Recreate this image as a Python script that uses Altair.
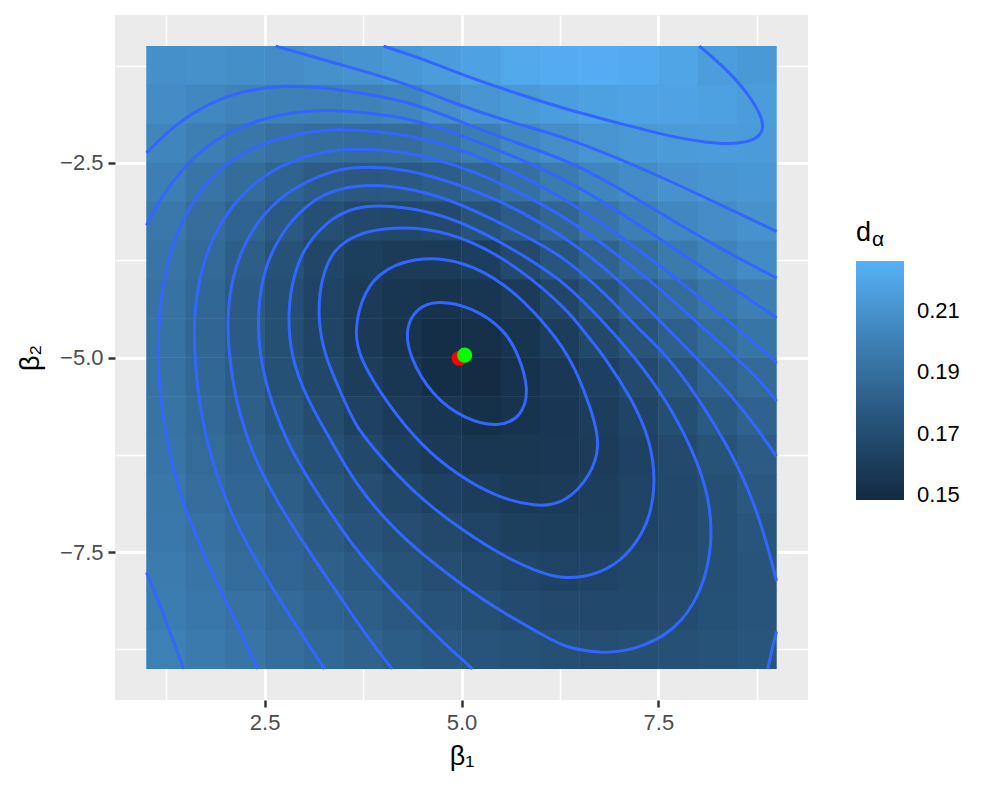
import altair as alt
import pandas as pd

# ---------------- data ----------------
X_CENTERS = [1.25, 1.75, 2.25, 2.75, 3.25, 3.75, 4.25, 4.75,
             5.25, 5.75, 6.25, 6.75, 7.25, 7.75, 8.25, 8.75]
Y_CENTERS = [-1.25, -1.75, -2.25, -2.75, -3.25, -3.75, -4.25, -4.75,
             -5.25, -5.75, -6.25, -6.75, -7.25, -7.75, -8.25, -8.75]
HALF_CELL = 0.253   # half cell width, with a hair of overlap to hide seams

# d_alpha per cell, rows top (beta2=-1.25) to bottom (beta2=-8.75)
D_ROWS = [
    [0.2082, 0.2085, 0.2079, 0.2071, 0.2085, 0.2104, 0.2127, 0.2151, 0.2180, 0.2214, 0.2236, 0.2242, 0.2228, 0.2197, 0.2155, 0.2135],
    [0.2065, 0.2040, 0.2017, 0.2002, 0.1997, 0.2008, 0.2024, 0.2074, 0.2110, 0.2134, 0.2158, 0.2177, 0.2191, 0.2191, 0.2177, 0.2149],
    [0.2029, 0.1989, 0.1945, 0.1915, 0.1893, 0.1887, 0.1897, 0.1928, 0.1984, 0.2040, 0.2076, 0.2108, 0.2130, 0.2145, 0.2151, 0.2148],
    [0.1991, 0.1930, 0.1883, 0.1839, 0.1789, 0.1770, 0.1772, 0.1804, 0.1850, 0.1906, 0.1967, 0.2026, 0.2066, 0.2099, 0.2116, 0.2123],
    [0.1955, 0.1895, 0.1837, 0.1772, 0.1710, 0.1673, 0.1665, 0.1681, 0.1737, 0.1792, 0.1852, 0.1929, 0.1991, 0.2043, 0.2070, 0.2097],
    [0.1931, 0.1871, 0.1803, 0.1731, 0.1657, 0.1613, 0.1589, 0.1589, 0.1617, 0.1681, 0.1749, 0.1824, 0.1900, 0.1964, 0.2013, 0.2057],
    [0.1919, 0.1856, 0.1786, 0.1713, 0.1642, 0.1591, 0.1553, 0.1536, 0.1553, 0.1591, 0.1658, 0.1739, 0.1817, 0.1884, 0.1946, 0.1992],
    [0.1916, 0.1852, 0.1785, 0.1712, 0.1643, 0.1584, 0.1539, 0.1502, 0.1508, 0.1549, 0.1599, 0.1668, 0.1742, 0.1817, 0.1877, 0.1938],
    [0.1917, 0.1857, 0.1794, 0.1728, 0.1664, 0.1604, 0.1557, 0.1505, 0.1488, 0.1530, 0.1572, 0.1622, 0.1685, 0.1752, 0.1820, 0.1872],
    [0.1922, 0.1866, 0.1809, 0.1749, 0.1692, 0.1633, 0.1587, 0.1552, 0.1514, 0.1535, 0.1566, 0.1600, 0.1647, 0.1709, 0.1772, 0.1829],
    [0.1931, 0.1878, 0.1826, 0.1773, 0.1723, 0.1670, 0.1623, 0.1584, 0.1562, 0.1560, 0.1570, 0.1594, 0.1635, 0.1682, 0.1739, 0.1792],
    [0.1945, 0.1896, 0.1847, 0.1801, 0.1752, 0.1705, 0.1663, 0.1628, 0.1599, 0.1584, 0.1586, 0.1609, 0.1637, 0.1672, 0.1716, 0.1768],
    [0.1953, 0.1915, 0.1868, 0.1829, 0.1784, 0.1740, 0.1701, 0.1668, 0.1640, 0.1618, 0.1614, 0.1620, 0.1645, 0.1677, 0.1710, 0.1752],
    [0.1967, 0.1934, 0.1891, 0.1852, 0.1815, 0.1773, 0.1738, 0.1706, 0.1682, 0.1658, 0.1642, 0.1646, 0.1667, 0.1689, 0.1713, 0.1745],
    [0.1981, 0.1949, 0.1914, 0.1874, 0.1839, 0.1803, 0.1768, 0.1740, 0.1716, 0.1691, 0.1674, 0.1674, 0.1679, 0.1696, 0.1726, 0.1746],
    [0.1995, 0.1962, 0.1931, 0.1897, 0.1862, 0.1828, 0.1797, 0.1767, 0.1746, 0.1729, 0.1711, 0.1702, 0.1710, 0.1721, 0.1735, 0.1752],
]
D_RANGE = [0.1484, 0.2263]
LEGEND_TICKS = [0.15, 0.17, 0.19, 0.21]
X_TICKS = [2.5, 5.0, 7.5]
Y_TICKS = [-7.5, -5.0, -2.5]
X_MINOR = [1.25, 3.75, 6.25, 8.75]
Y_MINOR = [-8.75, -6.25, -3.75, -1.25]

# contour lines (beta1, beta2)
L1 = [(4.67, -4.26), (5.14, -4.35), (5.56, -4.65), (5.73, -4.98), (5.86, -5.41), (5.77, -5.76),
      (5.47, -5.90), (5.05, -5.80), (4.63, -5.50), (4.33, -4.98), (4.29, -4.61), (4.43, -4.37)]
L2 = [(3.68, -4.98), (3.65, -4.63), (3.72, -4.28), (3.91, -3.92), (4.41, -3.70), (5.01, -3.75),
      (5.56, -4.05), (6.03, -4.52), (6.37, -4.98), (6.55, -5.40), (6.70, -5.84), (6.75, -6.14),
      (6.66, -6.49), (6.32, -6.88), (5.94, -6.92), (5.43, -6.79), (4.92, -6.49), (4.50, -6.14),
      (4.08, -5.63)]
L3 = [(3.66, -3.42), (3.38, -3.60), (3.22, -3.96), (3.17, -4.48), (3.26, -4.99), (3.51, -5.54),
      (3.65, -5.89), (4.08, -6.40), (4.50, -6.83), (5.01, -7.22), (5.56, -7.57), (6.03, -7.78),
      (6.35, -7.85), (6.75, -7.78), (7.09, -7.57), (7.38, -7.14), (7.47, -6.62), (7.40, -6.06),
      (7.17, -5.54), (6.81, -4.98), (6.58, -4.70), (6.35, -4.39), (5.77, -3.88), (5.14, -3.49),
      (4.50, -3.32), (3.99, -3.34)]
L4 = [(2.83, -4.99), (2.79, -4.39), (2.88, -3.88), (3.04, -3.53), (3.34, -3.21), (3.66, -3.06),
      (4.07, -3.04), (4.71, -3.14), (5.34, -3.42), (5.98, -3.81), (6.32, -4.05), (6.75, -4.48),
      (7.19, -4.98), (7.60, -5.54), (7.94, -6.19), (8.15, -6.79), (8.19, -7.40), (8.06, -8.00),
      (7.72, -8.52), (7.17, -8.77), (6.75, -8.80), (6.32, -8.73), (6.03, -8.56), (5.56, -8.30),
      (5.05, -7.96), (4.50, -7.53), (4.08, -7.14), (3.65, -6.62), (3.34, -6.06), (3.04, -5.54)]
L5 = [(5.14, -9.00), (4.84, -8.73), (4.50, -8.39), (4.08, -7.96), (3.65, -7.47), (3.17, -6.75),
      (2.83, -6.19), (2.58, -5.58), (2.43, -4.98), (2.41, -4.39), (2.49, -3.88), (2.66, -3.49),
      (2.92, -3.14), (3.26, -2.88), (3.65, -2.79), (4.07, -2.78), (4.71, -2.91), (5.34, -3.19),
      (5.98, -3.53), (6.32, -3.73), (6.83, -4.18), (7.26, -4.65), (7.62, -4.98), (8.02, -5.54),
      (8.36, -6.10), (8.66, -6.71), (8.87, -7.35), (9.00, -7.87)]
L5_CORNER = [(8.89, -9.00), (8.95, -8.72), (9.00, -8.52)]
L6 = [(4.12, -9.00), (3.91, -8.73), (3.66, -8.38), (3.38, -7.96), (3.00, -7.40), (2.62, -6.79),
      (2.32, -6.19), (2.13, -5.54), (2.05, -4.98), (2.02, -4.48), (2.09, -3.96), (2.24, -3.53),
      (2.49, -3.14), (2.83, -2.84), (3.26, -2.63), (3.65, -2.54), (4.29, -2.57), (4.92, -2.76),
      (5.56, -3.01), (6.32, -3.45), (6.96, -3.96), (7.51, -4.52), (7.96, -4.98), (8.44, -5.50),
      (8.74, -5.89), (9.00, -6.27)]
L7 = [(3.26, -9.00), (2.83, -8.34), (2.41, -7.65), (2.07, -7.01), (1.82, -6.32), (1.67, -5.63),
      (1.61, -4.98), (1.60, -4.48), (1.67, -3.96), (1.82, -3.49), (2.07, -3.06), (2.41, -2.71),
      (2.83, -2.47), (3.26, -2.35), (3.65, -2.31), (4.29, -2.35), (4.92, -2.52), (5.56, -2.78),
      (6.32, -3.19), (6.96, -3.66), (7.60, -4.18), (8.10, -4.65), (8.46, -4.98), (8.74, -5.24),
      (9.00, -5.56)]
L8 = [(2.41, -9.00), (2.11, -8.34), (1.82, -7.74), (1.52, -7.05), (1.31, -6.36), (1.18, -5.63),
      (1.14, -4.98), (1.16, -4.39), (1.24, -3.88), (1.39, -3.36), (1.65, -2.88), (1.98, -2.52),
      (2.41, -2.26), (2.92, -2.12), (3.34, -2.07), (3.65, -2.07), (4.29, -2.13), (4.92, -2.30),
      (5.56, -2.56), (6.32, -2.96), (6.96, -3.40), (7.60, -3.88), (8.23, -4.39), (8.91, -4.98),
      (9.00, -5.07)]
L9 = [(1.00, -3.30), (1.22, -2.88), (1.52, -2.50), (1.90, -2.17), (2.37, -1.96), (2.88, -1.84),
      (3.34, -1.82), (3.65, -1.84), (4.29, -1.91), (4.92, -2.11), (5.56, -2.37), (6.32, -2.71),
      (6.96, -3.10), (7.60, -3.53), (8.23, -3.96), (9.00, -4.49)]
L9_CORNER = [(1.00, -7.76), (1.22, -8.30), (1.47, -9.00)]
L10 = [(1.00, -2.37), (1.39, -1.98), (1.82, -1.72), (2.24, -1.57), (2.75, -1.50), (3.26, -1.53),
       (3.65, -1.59), (4.29, -1.70), (4.92, -1.94), (5.56, -2.20), (6.32, -2.45), (6.96, -2.80),
       (7.60, -3.19), (8.23, -3.57), (9.00, -3.98)]
L11 = [(2.64, -1.00), (3.65, -1.29), (4.29, -1.48), (4.92, -1.74), (5.56, -1.96), (6.32, -2.17),
       (6.96, -2.43), (7.60, -2.71), (8.23, -3.01), (9.00, -3.38)]
L12 = [(4.01, -1.00), (4.50, -1.16), (5.14, -1.42), (5.77, -1.63), (6.32, -1.81), (6.96, -1.98),
       (7.60, -2.15), (8.10, -2.24), (8.44, -2.26), (8.70, -2.22), (8.83, -2.11), (8.83, -1.94),
       (8.66, -1.63), (8.36, -1.29), (8.02, -1.00)]

CLOSED = {"L1": L1, "L2": L2, "L3": L3, "L4": L4}
OPEN = {"L5": L5, "L5b": L5_CORNER, "L6": L6, "L7": L7, "L8": L8, "L9": L9,
        "L9b": L9_CORNER, "L10": L10, "L11": L11, "L12": L12}

RED_PT = {"b1": [4.97], "b2": [-5.01]}
GREEN_PT = {"b1": [5.04], "b2": [-4.97]}

# ---------------- tables ----------------
grid = pd.DataFrame([
    {"b1": x, "b2": y, "d": D_ROWS[i][j]}
    for i, y in enumerate(Y_CENTERS) for j, x in enumerate(X_CENTERS)
])


def lines_df(dct):
    rows = []
    for name, pts in dct.items():
        for k, (x, y) in enumerate(pts):
            rows.append({"piece": name, "i": k, "b1": x, "b2": y})
    return pd.DataFrame(rows)


closed_df = lines_df(CLOSED)
open_df = lines_df(OPEN)

FONT = "Liberation Sans"
xs = alt.Scale(domain=[0.6, 9.4], nice=False, zero=False)
ys = alt.Scale(domain=[-9.4, -0.6], nice=False, zero=False)
cs = alt.Scale(domain=D_RANGE, range=["#132B43", "#56B1F7"], interpolate="lab")

major_x = alt.Axis(values=X_TICKS, format=".1f", title="β₁", orient="bottom",
                   grid=True, gridColor="white", gridWidth=3, domain=False,
                   tickColor="#333333", tickSize=7, tickWidth=2.5,
                   labelFontSize=22, labelColor="#4D4D4D", labelPadding=5, labelFont=FONT,
                   titleFontSize=27, titleColor="black", titleFontWeight="normal",
                   titleFont=FONT, titlePadding=10)
major_y = alt.Axis(values=Y_TICKS, format=".1f", title="β₂", orient="left",
                   grid=True, gridColor="white", gridWidth=3, domain=False,
                   tickColor="#333333", tickSize=7, tickWidth=2.5,
                   labelFontSize=22, labelColor="#4D4D4D", labelPadding=5, labelFont=FONT,
                   titleFontSize=27, titleColor="black", titleFontWeight="normal",
                   titleFont=FONT, titlePadding=15)
minor_x = alt.Axis(values=X_MINOR, orient="top", grid=True, gridColor="white",
                   gridWidth=1.5, labels=False, ticks=False, domain=False, title="")
minor_y = alt.Axis(values=Y_MINOR, orient="right", grid=True, gridColor="white",
                   gridWidth=1.5, labels=False, ticks=False, domain=False, title="")

legend = alt.Legend(title="d", orient="none", legendX=741, legendY=205, type="gradient",
                    direction="vertical", gradientLength=239, gradientThickness=48,
                    values=LEGEND_TICKS, format=".2f", labelFontSize=22,
                    labelColor="black", labelOffset=13, labelFont=FONT,
                    titleFontSize=27, titleFontWeight="normal", titleColor="black",
                    titleFont=FONT, titlePadding=14, gradientStrokeWidth=0)

raster = alt.Chart(grid).transform_calculate(
    x0=f"datum.b1 - {HALF_CELL}", x1=f"datum.b1 + {HALF_CELL}",
    y0=f"datum.b2 - {HALF_CELL}", y1=f"datum.b2 + {HALF_CELL}",
).mark_rect().encode(
    x=alt.X("x0:Q", scale=xs, axis=major_x),
    x2="x1:Q",
    y=alt.Y("y0:Q", scale=ys, axis=major_y),
    y2="y1:Q",
    color=alt.Color("d:Q", scale=cs, legend=legend),
)

closed_lines = alt.Chart(closed_df).mark_line(
    color="#3366FF", strokeWidth=3, interpolate="basis-closed"
).encode(
    x=alt.X("b1:Q", scale=xs, axis=minor_x),
    y=alt.Y("b2:Q", scale=ys, axis=minor_y),
    detail="piece:N",
    order="i:Q",
)

open_lines = alt.Chart(open_df).mark_line(
    color="#3366FF", strokeWidth=3, interpolate="basis"
).encode(
    x=alt.X("b1:Q", scale=xs, axis=None),
    y=alt.Y("b2:Q", scale=ys, axis=None),
    detail="piece:N",
    order="i:Q",
)

red = alt.Chart(pd.DataFrame(RED_PT)).mark_circle(size=230, opacity=1, color="#FF0000").encode(
    x=alt.X("b1:Q", scale=xs, axis=None), y=alt.Y("b2:Q", scale=ys, axis=None))
green = alt.Chart(pd.DataFrame(GREEN_PT)).mark_circle(size=230, opacity=1, color="#00FF00").encode(
    x=alt.X("b1:Q", scale=xs, axis=None), y=alt.Y("b2:Q", scale=ys, axis=None))

sub = alt.Chart(pd.DataFrame({"t": ["α"]})).mark_text(
    fontSize=21, font=FONT, align="left", baseline="alphabetic", color="black"
).encode(x=alt.value(757), y=alt.value(231), text="t:N")

chart = alt.layer(raster, closed_lines, open_lines, red, green, sub).resolve_axis(
    x="independent", y="independent"
).properties(
    width=693, height=685,
    autosize=alt.AutoSizeParams(type="none"),
    padding={"left": 107, "top": 7, "right": 181, "bottom": 89},
    background="white",
).configure_view(fill="#EBEBEB", strokeWidth=0)

chart.save("out.html", embed_options={"renderer": "svg", "actions": False})
